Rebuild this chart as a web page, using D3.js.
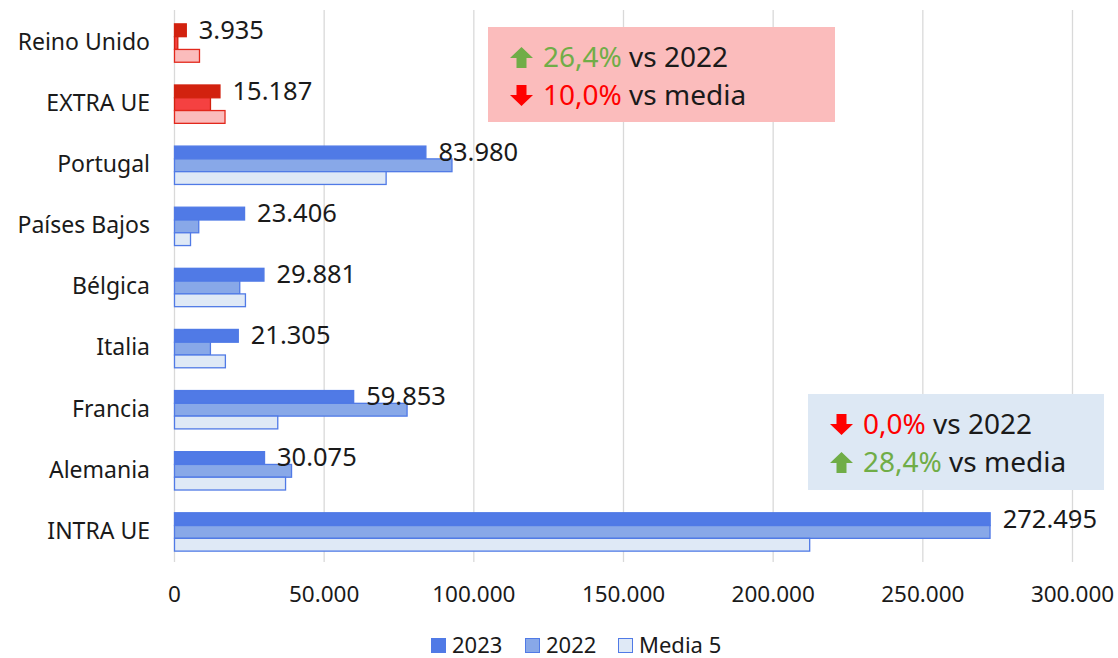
<!DOCTYPE html>
<html>
<head>
<meta charset="utf-8">
<script src="https://cdn.jsdelivr.net/npm/d3@7/dist/d3.min.js"></script>
<style>
  body { margin: 0; background: #fff; }
  text { font-family: "Noto Sans", sans-serif; fill: #1a1a1a; }
</style>
</head>
<body>
<div id="chart"></div>
<script>
// datos
var categories = ["Reino Unido", "EXTRA UE", "Portugal", "Países Bajos", "Bélgica", "Italia", "Francia", "Alemania", "INTRA UE"];
var series = ["2023", "2022", "Media 5"];
var values2023 = [3935, 15187, 83980, 23406, 29881, 21305, 59853, 30075, 272495];
var values2022 = [1100, 12015, 92700, 8100, 21800, 12000, 77700, 39100, 272450];
var valuesMedia = [8350, 16874, 70700, 5350, 23700, 17000, 34500, 37100, 212200];
var redCats = ["Reino Unido", "EXTRA UE"];
var xTicks = [0, 50000, 100000, 150000, 200000, 250000, 300000];

var notes = [
  {lines: [{dir: "up", pct: "26,4%", txt: " vs 2022"}, {dir: "down", pct: "10,0%", txt: " vs media"}], bg: "#fbbcbc", x: 488, y: 27, w: 347, h: 95},
  {lines: [{dir: "down", pct: "0,0%", txt: " vs 2022"}, {dir: "up", pct: "28,4%", txt: " vs media"}], bg: "#dde8f4", x: 808, y: 394, w: 296, h: 96}
];

var width = 1118, height = 658;
var svg = d3.select("#chart").append("svg")
    .attr("width", width)
    .attr("height", height);

var x = d3.scaleLinear().domain([0, 300000]).range([174, 1072]);
var y = d3.scaleBand().domain(categories).range([12, 562]).padding(0);
var ySub = d3.scaleBand().domain(series).range([0, y.bandwidth()]).paddingInner(0).paddingOuter(0.89);

var blue = {"2023": {fill: "#507ae6", stroke: "#507ae6"}, "2022": {fill: "#88a8e8", stroke: "#507ae6"}, "Media 5": {fill: "#dfe9f6", stroke: "#507ae6"}};
var red = {"2023": {fill: "#d2220f", stroke: "#d2220f"}, "2022": {fill: "#f54141", stroke: "#d2220f"}, "Media 5": {fill: "#fbbcbc", stroke: "#e2281c"}};

// grid
svg.append("g").selectAll("line")
    .data(xTicks)
    .enter().append("line")
    .attr("x1", d => x(d) + 0.5).attr("x2", d => x(d) + 0.5)
    .attr("y1", 10).attr("y2", 562)
    .attr("stroke", "#d9d9d9").attr("stroke-width", 1.3);

// x axis labels
var xAxis = d3.axisBottom(x).tickValues(xTicks).tickSize(0)
    .tickFormat(d => d3.format(",")(d).replace(/,/g, "."));
var gx = svg.append("g").attr("transform", "translate(0,583)").call(xAxis);
gx.select(".domain").remove();
gx.selectAll("text").style("font-family", "Noto Sans").style("font-size", "22.5px").attr("fill", "#1a1a1a");

// y axis labels
var yAxis = d3.axisLeft(y).tickSize(0).tickPadding(0);
var gy = svg.append("g").attr("transform", "translate(150,0)").call(yAxis);
gy.select(".domain").remove();
gy.selectAll("text").style("font-family", "Noto Sans").style("font-size", "23px").attr("fill", "#1a1a1a");

// bars
var rows = [];
categories.forEach(function (c, i) {
  rows.push({cat: c, s: "2023", v: values2023[i]});
  rows.push({cat: c, s: "2022", v: values2022[i]});
  rows.push({cat: c, s: "Media 5", v: valuesMedia[i]});
});

svg.append("g").selectAll("rect")
    .data(rows)
    .enter().append("rect")
    .attr("x", x(0) + 0.5)
    .attr("y", d => y(d.cat) + ySub(d.s) + 0.5)
    .attr("width", d => Math.max(0, x(d.v) - x(0)))
    .attr("height", ySub.bandwidth())
    .attr("fill", d => (redCats.includes(d.cat) ? red : blue)[d.s].fill)
    .attr("stroke", d => (redCats.includes(d.cat) ? red : blue)[d.s].stroke)
    .attr("stroke-width", 1.3);

// value labels (2023)
svg.append("g").selectAll("text")
    .data(categories)
    .enter().append("text")
    .attr("x", (d, i) => x(values2023[i]) + 13)
    .attr("y", d => y(d) + ySub("2023") + ySub.bandwidth() / 2)
    .attr("dy", "0.35em")
    .style("font-size", "25.5px")
    .text((d, i) => d3.format(",")(values2023[i]).replace(/,/g, "."));

// annotation boxes
function arrow(g, dir, ax, ay) {
  // ax,ay = top-left of a 23x21 block arrow
  var pts = dir === "up"
    ? [[11.5, 0], [23, 11], [16.5, 11], [16.5, 21], [6.5, 21], [6.5, 11], [0, 11]]
    : [[6.5, 0], [16.5, 0], [16.5, 10], [23, 10], [11.5, 21], [0, 10], [6.5, 10]];
  g.append("polygon")
    .attr("points", pts.map(p => (ax + p[0]) + "," + (ay + p[1])).join(" "))
    .attr("fill", dir === "up" ? "#70ad47" : "#ff0000");
}

notes.forEach(function (n) {
  var g = svg.append("g");
  g.append("rect").attr("x", n.x).attr("y", n.y).attr("width", n.w).attr("height", n.h).attr("fill", n.bg);
  n.lines.forEach(function (l, i) {
    var base = n.y + 40 + i * 38;
    arrow(g, l.dir, n.x + 22, base - 20);
    var t = g.append("text").attr("x", n.x + 55).attr("y", base).style("font-size", "28px");
    t.append("tspan").style("fill", l.dir === "up" ? "#70ad47" : "#ff0000").text(l.pct);
    t.append("tspan").text(l.txt);
  });
});

// legend
var legend = svg.append("g").attr("transform", "translate(431,638)");
var lx = [0, 94, 187];
series.forEach(function (s, i) {
  legend.append("rect").attr("x", lx[i] + 0.5).attr("y", 0.5).attr("width", 14).attr("height", 14)
      .attr("fill", blue[s].fill).attr("stroke", blue[s].stroke).attr("stroke-width", 1);
  legend.append("text").attr("x", lx[i] + 21).attr("y", 7).attr("dy", "0.35em")
      .style("font-size", "22px").text(s);
});
</script>
</body>
</html>
